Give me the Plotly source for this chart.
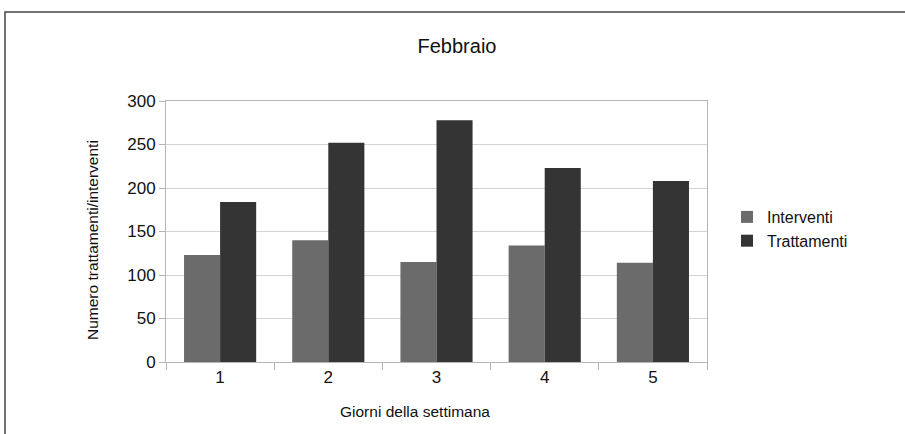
import plotly.graph_objects as go

giorni = ["1", "2", "3", "4", "5"]
interventi = [123, 140, 115, 134, 114]
trattamenti = [184, 252, 278, 223, 208]
y_ticks = [0, 50, 100, 150, 200, 250, 300]

W, H = 905, 434
ml, mr, mt, mb = 166, 198, 101, 72
pw, ph = W - ml - mr, H - mt - mb

def px_x(px):
    return (px - ml) / pw

def px_y(py):
    return (H - mb - py) / ph

FONT = "Liberation Sans, Arial, sans-serif"

fig = go.Figure()
fig.add_trace(go.Bar(x=giorni, y=interventi, name="Interventi",
                     marker=dict(color="#6b6b6b", line=dict(width=0))))
fig.add_trace(go.Bar(x=giorni, y=trattamenti, name="Trattamenti",
                     marker=dict(color="#343434", line=dict(width=0))))

fig.update_layout(
    width=W, height=H,
    margin=dict(l=ml, r=mr, t=mt, b=mb),
    paper_bgcolor="white", plot_bgcolor="white",
    barmode="group", bargap=1/3, bargroupgap=0,
    font=dict(family=FONT, color="#111111", size=16),
    title=dict(text="Febbraio", x=457 / W, xanchor="center",
               y=1 - 46 / H, yanchor="middle",
               font=dict(size=20, family=FONT, color="#111111")),
    legend=dict(x=px_x(727), y=px_y(229), xanchor="left", yanchor="middle",
                font=dict(size=16, family=FONT, color="#111111"), itemwidth=30,
                bgcolor="rgba(0,0,0,0)", tracegroupgap=2),
    showlegend=True,
)

fig.update_xaxes(
    type="category", showgrid=False,
    showline=True, linecolor="#b5b5b5", linewidth=1, mirror=True,
    ticks="outside", tickson="boundaries", ticklen=7, tickcolor="#b5b5b5",
    tickfont=dict(size=17, family=FONT, color="#111111"),
)
fig.update_yaxes(
    range=[0, 300], tickvals=y_ticks,
    showgrid=True, gridcolor="#d3d3d3", gridwidth=1,
    showline=True, linecolor="#b5b5b5", linewidth=1, mirror=True,
    ticks="outside", ticklen=6, tickcolor="#b5b5b5",
    tickfont=dict(size=17, family=FONT, color="#111111"),
    zeroline=False,
)

fig.add_annotation(text="Giorni della settimana", xref="paper", yref="paper",
                   x=px_x(415), y=px_y(411), showarrow=False,
                   xanchor="center", yanchor="middle",
                   font=dict(size=15.5, family=FONT, color="#111111"))
fig.add_annotation(text="Numero trattamenti/interventi", xref="paper", yref="paper",
                   x=px_x(92), y=px_y(240), showarrow=False, textangle=-90,
                   xanchor="center", yanchor="middle",
                   font=dict(size=15.5, family=FONT, color="#111111"))

fig.add_shape(type="rect", xref="paper", yref="paper",
              x0=px_x(5), x1=px_x(960), y0=px_y(480), y1=px_y(12),
              line=dict(color="#444444", width=1.5), fillcolor="rgba(0,0,0,0)",
              layer="below")

fig.write_html("out.html", config={"displayModeBar": False},
               post_script="document.body.style.margin='0';document.body.style.overflow='hidden';")
